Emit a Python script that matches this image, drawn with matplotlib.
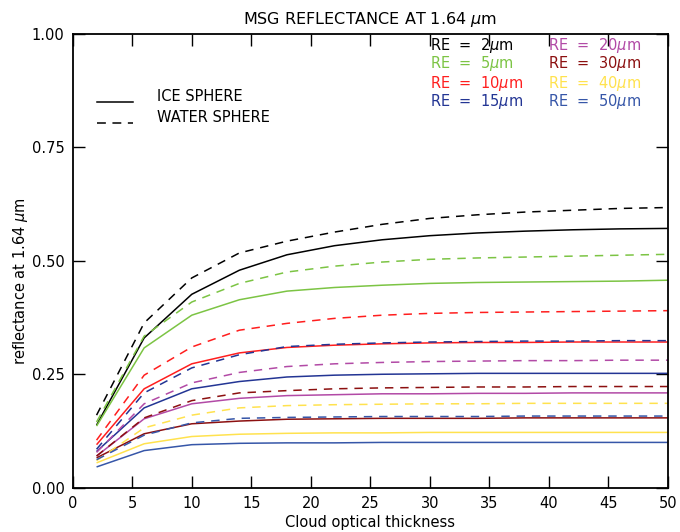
import matplotlib
matplotlib.use("Agg")
import matplotlib.pyplot as plt
from matplotlib.lines import Line2D

# optical thickness grid
tau = [2, 6, 10, 14, 18, 22, 26, 30, 34, 38, 42, 46, 50]

# effective radius labels and colours
re_labels = ["2", "5", "10", "15", "20", "30", "40", "50"]
re_colors = ["#000000", "#7cc444", "#ff1e1e", "#233594",
             "#b24aa6", "#8c1010", "#ffe24e", "#3656a8"]

# reflectance at 1.64 um, ice spheres (solid)
ice = [
    [0.138, 0.330, 0.426, 0.479, 0.513, 0.533, 0.546, 0.555, 0.561, 0.565, 0.568, 0.570, 0.571],
    [0.136, 0.308, 0.380, 0.414, 0.433, 0.441, 0.446, 0.450, 0.452, 0.453, 0.454, 0.455, 0.457],
    [0.095, 0.218, 0.273, 0.297, 0.309, 0.314, 0.317, 0.319, 0.320, 0.320, 0.321, 0.321, 0.321],
    [0.080, 0.176, 0.218, 0.234, 0.244, 0.248, 0.250, 0.251, 0.252, 0.252, 0.252, 0.252, 0.252],
    [0.070, 0.152, 0.185, 0.197, 0.203, 0.205, 0.207, 0.207, 0.208, 0.208, 0.209, 0.209, 0.209],
    [0.066, 0.119, 0.141, 0.147, 0.151, 0.152, 0.153, 0.153, 0.153, 0.154, 0.154, 0.154, 0.154],
    [0.055, 0.097, 0.113, 0.118, 0.120, 0.121, 0.121, 0.122, 0.122, 0.122, 0.122, 0.122, 0.122],
    [0.046, 0.082, 0.095, 0.098, 0.099, 0.099, 0.100, 0.100, 0.100, 0.100, 0.100, 0.100, 0.100],
]

# reflectance at 1.64 um, water spheres (dashed)
water = [
    [0.160, 0.363, 0.462, 0.517, 0.543, 0.563, 0.580, 0.593, 0.601, 0.607, 0.611, 0.615, 0.617],
    [0.145, 0.334, 0.409, 0.450, 0.475, 0.488, 0.497, 0.503, 0.506, 0.508, 0.510, 0.512, 0.514],
    [0.105, 0.248, 0.310, 0.347, 0.362, 0.373, 0.380, 0.384, 0.386, 0.387, 0.388, 0.389, 0.390],
    [0.085, 0.209, 0.264, 0.293, 0.311, 0.316, 0.319, 0.321, 0.322, 0.323, 0.323, 0.324, 0.324],
    [0.078, 0.185, 0.231, 0.254, 0.267, 0.273, 0.276, 0.278, 0.279, 0.280, 0.280, 0.281, 0.281],
    [0.070, 0.154, 0.192, 0.209, 0.214, 0.218, 0.220, 0.221, 0.222, 0.222, 0.223, 0.223, 0.223],
    [0.060, 0.132, 0.160, 0.176, 0.181, 0.183, 0.184, 0.185, 0.185, 0.186, 0.186, 0.186, 0.186],
    [0.062, 0.116, 0.143, 0.153, 0.155, 0.156, 0.157, 0.157, 0.157, 0.158, 0.158, 0.158, 0.158],
]

plt.rcParams['font.family'] = 'DejaVu Sans'
plt.rcParams['mathtext.fontset'] = 'dejavusans'

fig = plt.figure(figsize=(6.8, 5.32), dpi=100)
ax = fig.add_axes([0.107, 0.083, 0.875, 0.854])

dash = (5.5, 4.5)
for i in range(len(re_labels)):
    ax.plot(tau, ice[i], color=re_colors[i], lw=1.1, solid_capstyle='butt')
    ax.plot(tau, water[i], color=re_colors[i], lw=1.1, dashes=dash)

ax.set_xlim(0, 50)
ax.set_ylim(0, 1.0)
ax.set_xticks(range(0, 51, 5))
ax.set_yticks([0, 0.25, 0.5, 0.75, 1.0])
ax.set_yticklabels(["0.00", "0.25", "0.50", "0.75", "1.00"])
ax.tick_params(direction='in', length=8.5, width=1.0, top=True, right=True,
               labeltop=False, labelright=False, labelsize=10.5, pad=6)
for s in ax.spines.values():
    s.set_linewidth(1.3)

ax.set_title(r"MSG REFLECTANCE AT 1.64 $\mu$m", fontsize=11.5, pad=7)
ax.set_xlabel("Cloud optical thickness", fontsize=10.5, labelpad=3)
ax.set_ylabel(r"reflectance at 1.64 $\mu$m", fontsize=10.5)
ax.yaxis.set_label_coords(-0.072, 0.455)

# RE legend (coloured text, two columns)
col_x = [0.600, 0.798]
row_y = [0.974, 0.933, 0.891, 0.851]
for i, lab in enumerate(re_labels):
    ax.text(col_x[i // 4], row_y[i % 4], "RE  =  " + lab + r"$\mu$m",
            transform=ax.transAxes, color=re_colors[i], fontsize=10.5,
            ha='left', va='center')

# ice / water legend
ax.add_line(Line2D([0.040, 0.101], [0.849, 0.849], transform=ax.transAxes,
                   color='black', lw=1.1))
ax.add_line(Line2D([0.040, 0.101], [0.803, 0.803], transform=ax.transAxes,
                   color='black', lw=1.1, dashes=(5.8, 4.3)))
ax.text(0.141, 0.862, "ICE SPHERE", transform=ax.transAxes, fontsize=10.5,
        ha='left', va='center')
ax.text(0.141, 0.815, "WATER SPHERE", transform=ax.transAxes, fontsize=10.5,
        ha='left', va='center')

fig.savefig("out.png", dpi=100)
